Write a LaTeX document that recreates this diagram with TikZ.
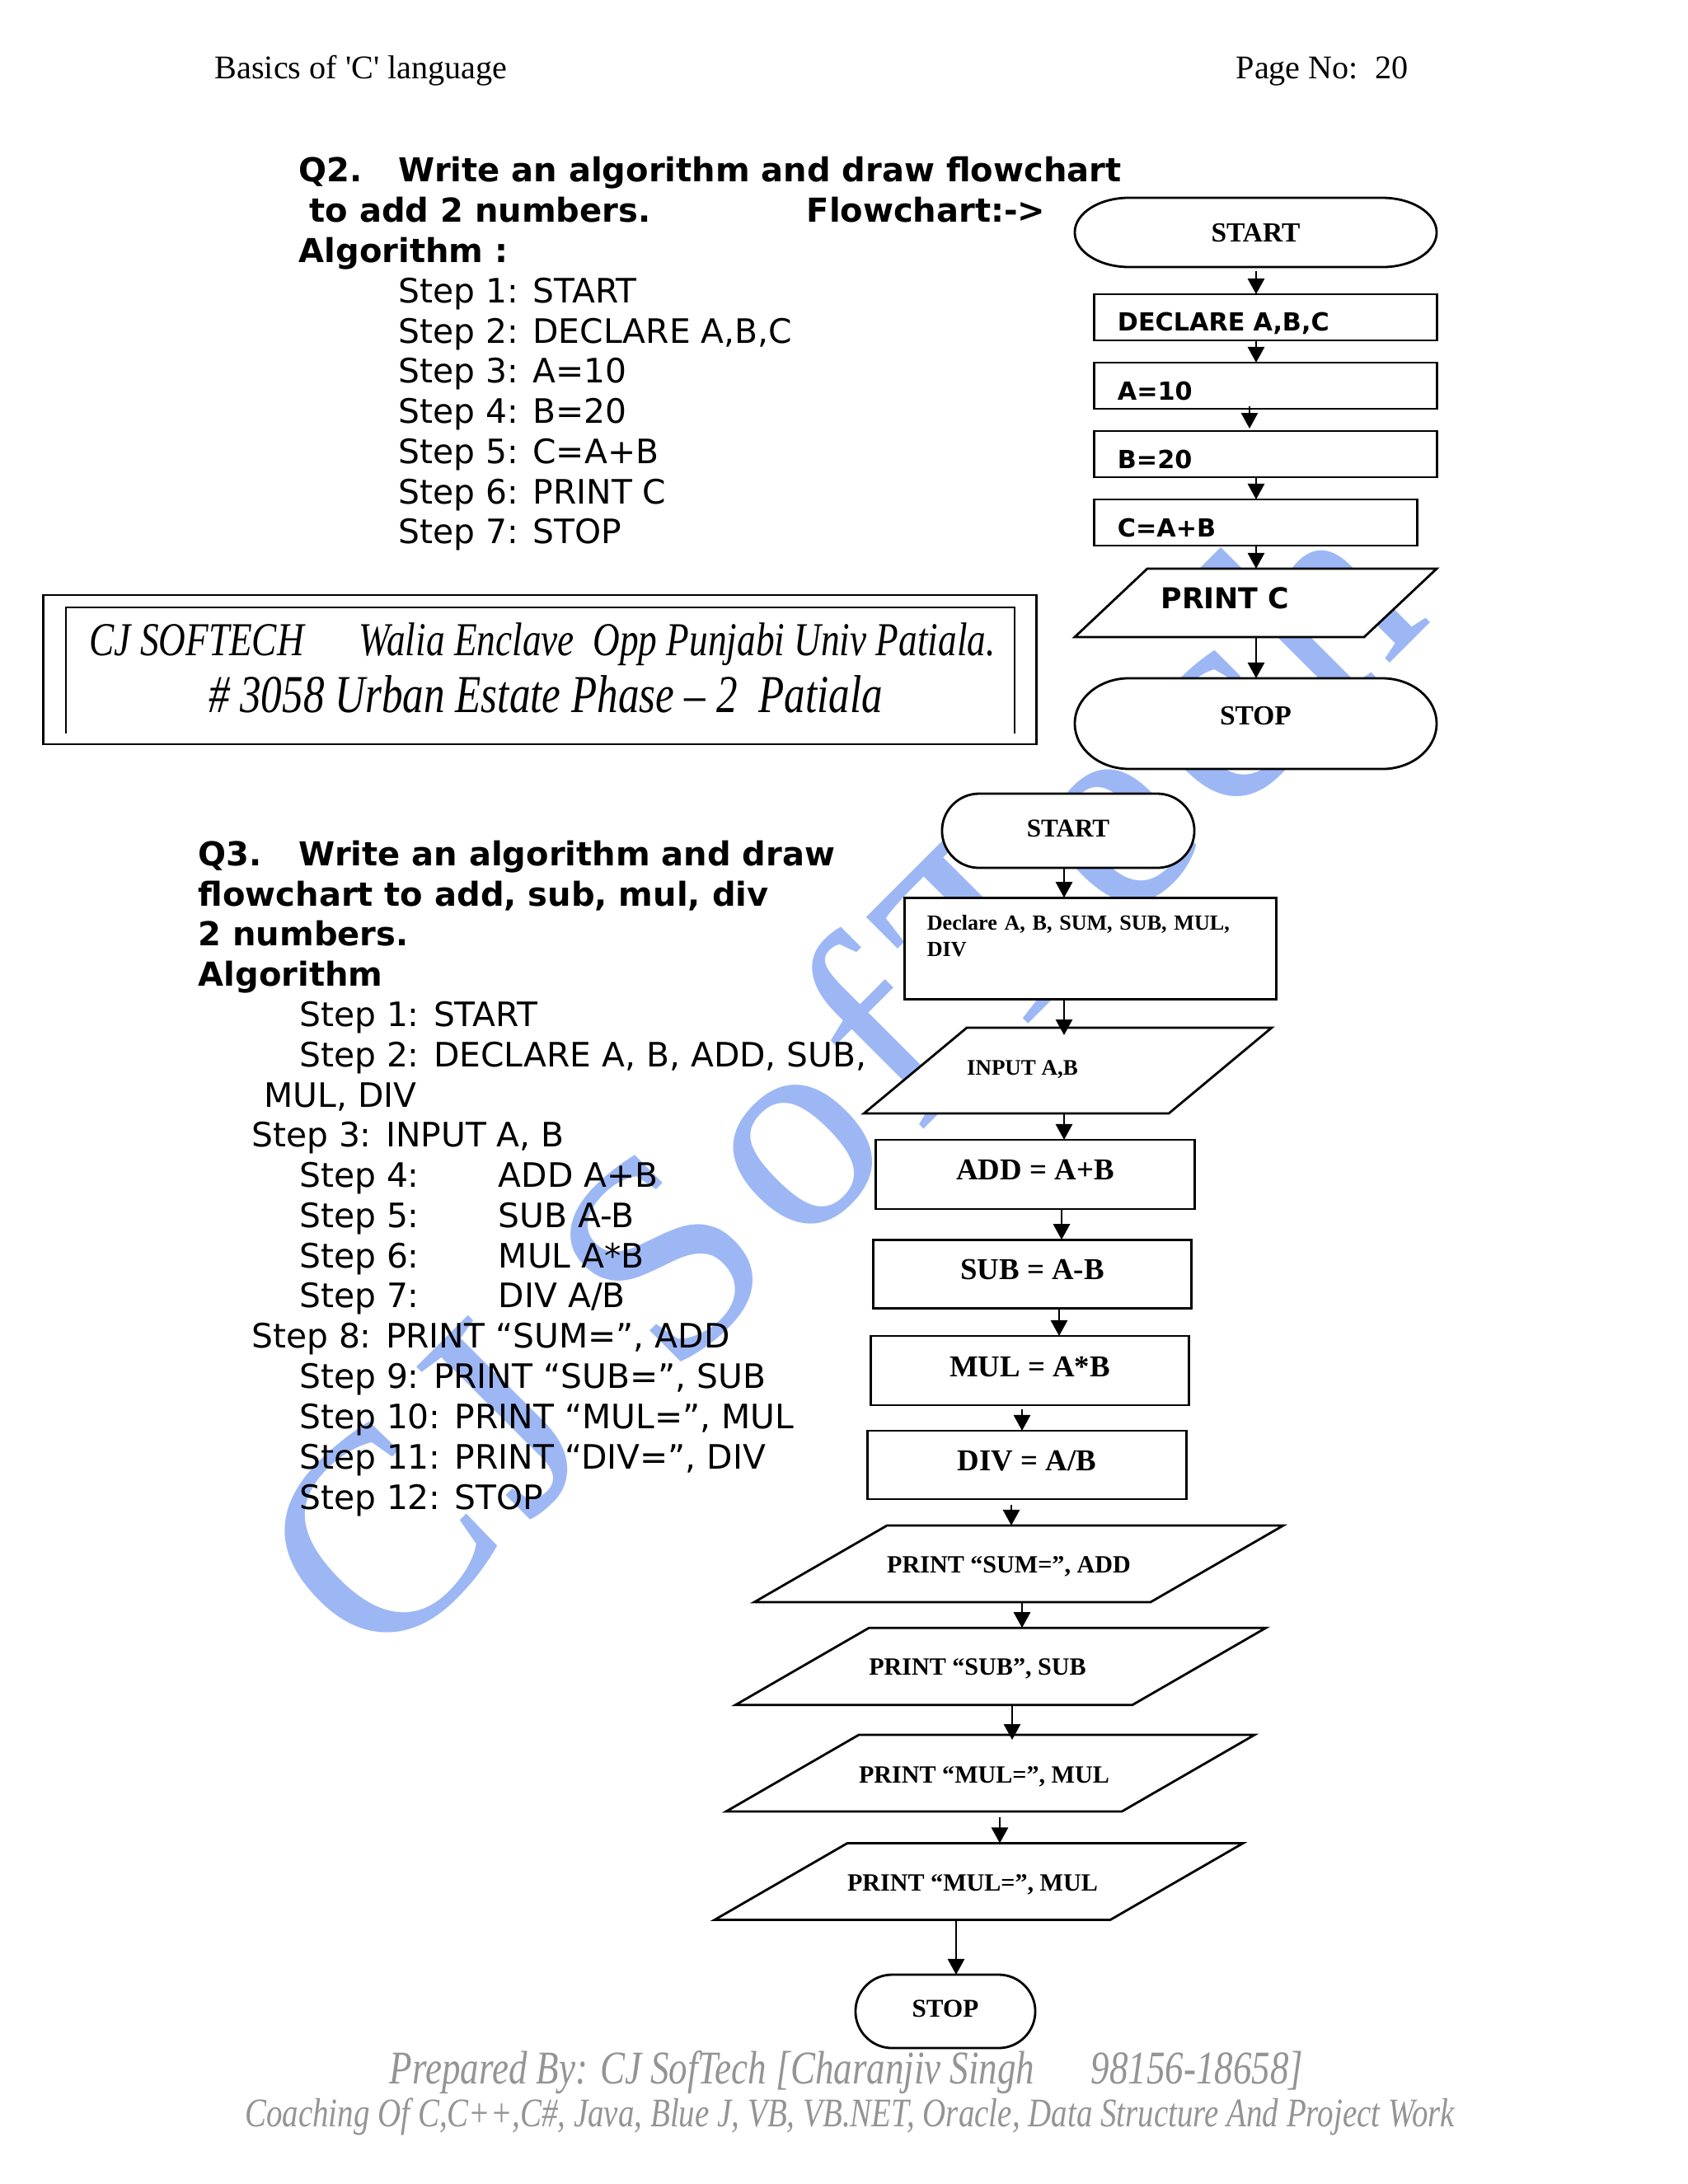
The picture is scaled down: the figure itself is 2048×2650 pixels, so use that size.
\documentclass[tikz,border=0pt]{standalone}
\usepackage{fontspec}
\setmainfont{Liberation Serif}
\newfontfamily\verd{DejaVu Sans}
\newfontfamily\corsiva[FakeStretch=0.79]{Liberation Serif}
\newfontfamily\wfont[LetterSpace=6.6]{Liberation Serif}
\usetikzlibrary{arrows.meta,shapes.geometric,shapes.misc}
\newcommand\stepfont{\verd\fontsize{11.6}{14}\selectfont}
\newcommand\titlefont{\verd\bfseries\fontsize{11.38}{14}\selectfont}
\begin{document}
\begin{tikzpicture}
	    [%%%%%%%%%%%%%%%%%%%%%%%%%%%%%%
	        x=0.01cm, y=-0.01cm,
	        box/.style={rectangle,draw=black,fill=white,line width=0.8pt,inner sep=0pt,outer sep=0pt,font=\bfseries\fontsize{10.47}{13}\selectfont},
	        vbox/.style={box,align=left,inner xsep=0.28cm,font=\verd\bfseries\fontsize{8.6}{11}\selectfont},
	        para/.style={trapezium,trapezium stretches body,trapezium left angle=30,trapezium right angle=150,draw=black,fill=white,line width=0.8pt,inner sep=0pt,outer sep=0pt,font=\bfseries\fontsize{8.56}{11}\selectfont},
	        term/.style={rounded rectangle,draw=black,fill=white,line width=0.8pt,inner sep=0pt,outer sep=0pt,font=\bfseries\fontsize{8.85}{11}\selectfont},
	        termtext/.style={rectangle,inner sep=0pt,outer sep=0pt,font=\bfseries\fontsize{9.52}{12}\selectfont},
	        flow/.style={draw=black,line width=0.8pt,-{Triangle[length=0.19cm,width=0.2cm]}},
	        stepline/.style={anchor=base west,inner sep=0pt,font=\stepfont},
	        titleline/.style={anchor=base west,inner sep=0pt,font=\titlefont},
	        pagehead/.style={anchor=base west,inner sep=0pt,font=\fontsize{11.42}{14}\selectfont},
	        addrline/.style={anchor=base,inner sep=0pt,font=\corsiva\itshape\fontsize{16.3}{19}\selectfont},
	        footline/.style={anchor=base,inner sep=0pt,text=black!42,font=\corsiva\itshape\fontsize{16.2}{19}\selectfont},
	        wmark/.style={rotate=45,inner sep=0pt,text=wblue,font=\wfont\fontsize{100}{106}\selectfont},
	    ]%%%%%%%%%%%%%%%%%%%%%%%%%%%%%%
	\definecolor{wblue}{HTML}{9DB7F5}
	\useasboundingbox (0,0) rectangle (2048,2650);

	\node[wmark] (watermark) at (1012,1306) {CJ SofTech};

	\node[pagehead] (headleft) at (260,95) {Basics of \textquotesingle C\textquotesingle{} language};
	\node[pagehead] (headright) at (1499,95) {Page No:\ \ 20};

	\node[titleline] (qa1) at (362,220) {Q2.};
	\node[titleline] (qa2) at (483,220) {Write an algorithm and draw flowchart};
	\node[titleline] (qa3) at (375,269) {to add 2 numbers.};
	\node[titleline] (qa4) at (978,269) {Flowchart:->};
	\node[titleline] (qa5) at (362,318) {Algorithm :};
	\node[stepline] (sa1) at (483,367) {Step 1: START};
	\node[stepline] (sa2) at (483,416) {Step 2: DECLARE A,B,C};
	\node[stepline] (sa3) at (483,464) {Step 3: A=10};
	\node[stepline] (sa4) at (483,513) {Step 4: B=20};
	\node[stepline] (sa5) at (483,562) {Step 5: C=A+B};
	\node[stepline] (sa6) at (483,611) {Step 6: PRINT C};
	\node[stepline] (sa7) at (483,659) {Step 7: STOP};

	\node[rectangle,draw=black,line width=0.8pt,minimum width=12.04cm,minimum height=1.81cm,inner sep=0pt] (addrbox) at (655,812.5) {};
	\draw[line width=0.8pt] (80,890) -- (80,737) -- (1231,737) -- (1231,890);
	\node[addrline] (addr1) at (658,795) {CJ SOFTECH\quad\,Walia Enclave\ \ Opp Punjabi Univ Patiala.};
	\node[addrline,font=\corsiva\itshape\fontsize{18.4}{21}\selectfont] (addr2) at (662,864) {\# 3058 Urban Estate Phase – 2\ \ Patiala};

	\node[titleline] (qb1) at (240,1050) {Q3.};
	\node[titleline] (qb2) at (362,1050) {Write an algorithm and draw};
	\node[titleline] (qb3) at (240,1099) {flowchart to add, sub, mul, div};
	\node[titleline] (qb4) at (240,1147) {2 numbers.};
	\node[titleline] (qb5) at (240,1196) {Algorithm};
	\node[stepline] (sb1) at (362.5,1245) {Step 1: START};
	\node[stepline] (sb2) at (362.5,1294) {Step 2: DECLARE A, B, ADD, SUB,};
	\node[stepline] (sb2b) at (320,1343) {MUL, DIV};
	\node[stepline] (sb3) at (304.5,1391) {Step 3: INPUT A, B};
	\node[stepline] (sb4) at (362.5,1440) {\makebox[2.415cm][l]{Step 4:}ADD A+B};
	\node[stepline] (sb5) at (362.5,1489) {\makebox[2.415cm][l]{Step 5:}SUB A-B};
	\node[stepline] (sb6) at (362.5,1538) {\makebox[2.415cm][l]{Step 6:}MUL A*B};
	\node[stepline] (sb7) at (362.5,1586) {\makebox[2.415cm][l]{Step 7:}DIV A/B};
	\node[stepline] (sb8) at (304.5,1635) {Step 8: PRINT “SUM=”, ADD};
	\node[stepline] (sb9) at (362.5,1684) {Step 9: PRINT “SUB=”, SUB};
	\node[stepline] (sb10) at (362.5,1733) {Step 10: PRINT “MUL=”, MUL};
	\node[stepline] (sb11) at (362.5,1782) {Step 11: PRINT “DIV=”, DIV};
	\node[stepline] (sb12) at (362.5,1831) {Step 12: STOP};

	\draw[line width=0.8pt,fill=white] (1370,240) -- (1677,240) arc[start angle=90,end angle=-90,x radius=0.66cm,y radius=0.42cm] -- (1370,324) arc[start angle=270,end angle=90,x radius=0.66cm,y radius=0.42cm] -- cycle;
	\node[termtext,minimum width=4.39cm,text height=0.53cm,text depth=0.31cm] (starta) at (1523.5,282) {START};
	\node[vbox,text width=3.59cm,text height=0.44cm,text depth=0.12cm] (decla) at (1535.5,385) {DECLARE A,B,C};
	\node[vbox,text width=3.59cm,text height=0.45cm,text depth=0.11cm] (vala) at (1535.5,468) {A=10};
	\node[vbox,text width=3.59cm,text height=0.45cm,text depth=0.11cm] (valb) at (1535.5,551) {B=20};
	\node[vbox,text width=3.35cm,text height=0.45cm,text depth=0.11cm] (valc) at (1523.5,634) {C=A+B};
	\node[para,trapezium left angle=43.3,trapezium right angle=136.7,minimum width=4.39cm,text height=0.48cm,text depth=0.35cm,font=\verd\bfseries\fontsize{9.9}{12}\selectfont] (printc) at (1523.5,731.5) {PRINT C\hspace*{0.74cm}};
	\draw[line width=0.8pt,fill=white] (1370,823) -- (1677,823) arc[start angle=90,end angle=-90,x radius=0.66cm,y radius=0.55cm] -- (1370,933) arc[start angle=270,end angle=90,x radius=0.66cm,y radius=0.55cm] -- cycle;
	\node[termtext,minimum width=4.39cm,text height=0.56cm,text depth=0.54cm] (stopa) at (1523.5,878) {STOP};

	\coordinate (xa) at (1524,0);
	\coordinate (ta1) at (1524,329);
	\coordinate (ta3) at (1516,493);
	\coordinate (ha3) at (1516,520);
	\draw[flow] (ta1) -- (decla.north -| xa);
	\draw[flow] (decla.south -| xa) -- (vala.north -| xa);
	\draw[flow] (ta3) -- (ha3);
	\draw[flow] (valb.south -| xa) -- (valc.north -| xa);
	\draw[flow] (valc.south -| xa) -- (printc.north -| xa);
	\draw[flow] (printc.south -| xa) -- (stopa.north -| xa);

	\node[term,minimum width=3.06cm,text height=0.52cm,text depth=0.38cm] (startb) at (1296,1008) {START};
	\node[box,align=left,inner xsep=0.27cm,text width=3.96cm,text height=0.395cm,text depth=0.84cm,font=\bfseries\fontsize{7.42}{9.1}\selectfont] (declb) at (1323,1151) {Declare A, B, SUM, SUB, MUL,\\DIV};
	\node[para,trapezium left angle=39.8,trapezium right angle=140.2,minimum width=4.56cm,text height=0.57cm,text depth=0.47cm,font=\bfseries\fontsize{7.67}{10}\selectfont] (inputb) at (1295.5,1299) {INPUT A,B\hspace*{1.1cm}};
	\node[box,minimum width=3.86cm,text height=0.48cm,text depth=0.36cm] (addb) at (1256,1425) {ADD = A+B};
	\node[box,minimum width=3.85cm,text height=0.485cm,text depth=0.35cm] (subb) at (1252.5,1546) {SUB = A-B};
	\node[box,minimum width=3.85cm,text height=0.49cm,text depth=0.35cm] (mulb) at (1249.5,1663) {MUL = A*B};
	\node[box,minimum width=3.86cm,text height=0.48cm,text depth=0.35cm] (divb) at (1246,1777.5) {DIV = A/B};
	\node[para,minimum width=6.05cm,text height=0.575cm,text depth=0.355cm] (psum) at (1236,1897.5) {PRINT “SUM=”, ADD\hspace*{0.24cm}};
	\node[para,minimum width=6.045cm,text height=0.575cm,text depth=0.36cm] (psub) at (1214,2022) {PRINT “SUB”, SUB\hspace*{0.56cm}};
	\node[para,minimum width=6.045cm,text height=0.58cm,text depth=0.35cm] (pmul) at (1201.5,2151.5) {PRINT “MUL=”, MUL\hspace*{0.15cm}};
	\node[para,minimum width=6.06cm,text height=0.575cm,text depth=0.355cm] (pmulb) at (1187.5,2283) {PRINT “MUL=”, MUL\hspace*{0.15cm}};
	\node[term,minimum width=2.18cm,text height=0.51cm,text depth=0.38cm] (stopb) at (1147,2440.5) {STOP};

	\coordinate (xb1) at (1291,0);
	\coordinate (hb2) at (1291,1256);
	\coordinate (xb4) at (1288,0);
	\coordinate (xb5) at (1285,0);
	\coordinate (tb6) at (1240,1709.5);
	\coordinate (tb7) at (1227,1826);
	\coordinate (xb8) at (1240,0);
	\coordinate (xb9) at (1228,0);
	\coordinate (hb9) at (1228,2111);
	\coordinate (tb10) at (1213,2205);
	\coordinate (xb11) at (1160,0);
	\draw[flow] (startb.south -| xb1) -- (declb.north -| xb1);
	\draw[flow] (declb.south -| xb1) -- (hb2);
	\draw[flow] (inputb.south -| xb1) -- (addb.north -| xb1);
	\draw[flow] (addb.south -| xb4) -- (subb.north -| xb4);
	\draw[flow] (subb.south -| xb5) -- (mulb.north -| xb5);
	\draw[flow] (tb6) -- (divb.north -| tb6);
	\draw[flow] (tb7) -- (psum.north -| tb7);
	\draw[flow] (psum.south -| xb8) -- (psub.north -| xb8);
	\draw[flow] (psub.south -| xb9) -- (hb9);
	\draw[flow] (tb10) -- (pmulb.north -| tb10);
	\draw[flow] (pmulb.south -| xb11) -- (stopb.north -| xb11);

	\node[footline] (foot1) at (1027,2528) {Prepared By: CJ SofTech [Charanjiv Singh\quad\ 98156-18658]};
	\node[footline,font=\corsiva\itshape\fontsize{14.03}{17}\selectfont] (foot2) at (1031,2580) {Coaching Of C,C++,C\#, Java, Blue J, VB, VB.NET, Oracle, Data Structure And Project Work};
\end{tikzpicture}
\end{document}
